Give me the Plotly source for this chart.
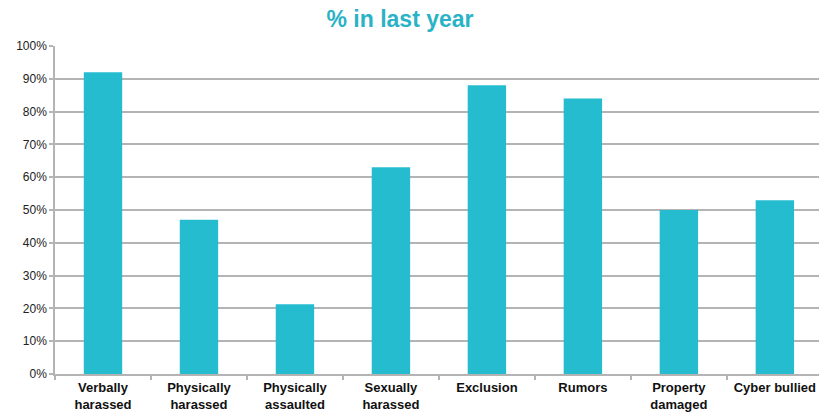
import plotly.graph_objects as go

categories = ["Verbally<br>harassed", "Physically<br>harassed", "Physically<br>assaulted",
              "Sexually<br>harassed", "Exclusion", "Rumors", "Property<br>damaged", "Cyber bullied"]
values = [0.92, 0.47, 0.213, 0.63, 0.88, 0.84, 0.50, 0.53]

fig = go.Figure()
fig.add_trace(go.Bar(
    x=categories, y=values,
    marker=dict(color="#25BCD0", line=dict(width=0)),
    width=0.4,
))

fig.update_layout(
    width=819, height=412,
    margin=dict(l=55, r=0, t=46, b=38, autoexpand=False),
    paper_bgcolor="white", plot_bgcolor="white",
    showlegend=False,
    font=dict(family="Liberation Sans, Arial, sans-serif", color="#222222"),
    title=dict(
        text="<b>% in last year</b>",
        x=400/819, xanchor="center", xref="container",
        y=1 - 19/412, yanchor="middle", yref="container",
        font=dict(size=23, color="#2AB2C6", family="Liberation Sans, Arial, sans-serif"),
    ),
)

fig.update_yaxes(
    range=[0, 1], dtick=0.1, tickformat=".0%",
    showgrid=True, gridcolor="#B4B4B4", gridwidth=1.5,
    showline=True, linecolor="#B4B4B4", linewidth=1.5,
    ticks="outside", ticklen=4, tickcolor="#B4B4B4", tickwidth=1.5,
    tickfont=dict(size=12, color="#222222"),
    zeroline=False, fixedrange=True, automargin=False,
)
fig.update_xaxes(
    range=[-0.5, 7.46],
    showline=True, linecolor="#B4B4B4", linewidth=1.5,
    ticks="outside", ticklen=4, tickcolor="#B4B4B4", tickwidth=1.5,
    tickson="boundaries", ticklabelstandoff=1,
    tickfont=dict(size=13, color="#111111", family="Liberation Sans, Arial, sans-serif", weight="bold"),
    tickangle=0,
    fixedrange=True, automargin=False,
)

fig.write_html(
    "out.html",
    config={"displayModeBar": False},
    post_script="document.body.style.margin='0';document.body.style.padding='0';document.body.style.overflow='hidden';",
)
